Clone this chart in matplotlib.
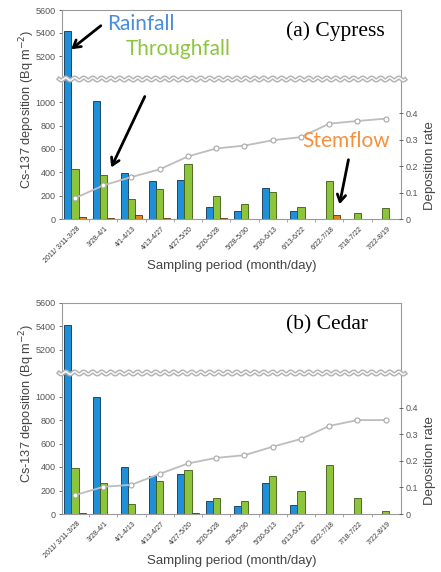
import matplotlib
matplotlib.use("Agg")
import matplotlib.pyplot as plt
import matplotlib.transforms as mtransforms
import numpy as np

periods = ["2011/ 3/11-3/28", "3/28-4/1", "4/1-4/13", "4/13-4/27", "4/27-5/20",
           "5/20-5/28", "5/28-5/30", "5/30-6/13", "6/13-6/22", "6/22-7/18",
           "7/18-7/22", "7/22-8/19"]

cypress_rain = [5420, 1010, 394, 323, 337, 106, 66, 263, 71, 0, 0, 0]
cypress_through = [429, 380, 171, 260, 474, 194, 131, 231, 106, 323, 49, 94]
cypress_stem = [14, 5, 31, 5, 0, 5, 0, 0, 0, 37, 0, 0]
cypress_rate = [0.079, 0.127, 0.159, 0.188, 0.237, 0.267, 0.278, 0.298,
                0.310, 0.361, 0.371, 0.380]

cedar_rain = [5415, 1000, 400, 326, 340, 109, 66, 266, 74, 0, 0, 0]
cedar_through = [389, 266, 86, 277, 374, 140, 109, 326, 200, 414, 134, 29]
cedar_stem = [8, 0, 0, 0, 8, 0, 0, 0, 0, 0, 0, 0]
cedar_rate = [0.071, 0.102, 0.110, 0.151, 0.190, 0.211, 0.221, 0.253,
              0.282, 0.331, 0.353, 0.353]

W, H = 441, 572
C_RAIN = "#1f8fd8"
C_THROUGH = "#8cc43c"
C_STEM = "#e0861e"
FRAME = "#9a9a9a"
TXT = "#555555"


def fig_xy(x, y):
    return x / W, 1 - y / H


def draw_panel(fig, top_px, split_px, bottom_px, rain, through, stem, rate, tag):
    left, right = 62, 401
    ax_top = fig.add_axes([left / W, 1 - split_px / H, (right - left) / W,
                           (split_px - top_px) / H])
    ax = fig.add_axes([left / W, 1 - bottom_px / H, (right - left) / W,
                       (bottom_px - split_px) / H], sharex=ax_top)
    x = np.arange(len(periods))
    w = 0.25
    for a in (ax_top, ax):
        a.bar(x - w, rain, w, color=C_RAIN, edgecolor="#0b3550", linewidth=0.6)
        a.bar(x, through, w, color=C_THROUGH, edgecolor="#3f5a12", linewidth=0.6)
        a.bar(x + w, stem, w, color=C_STEM, edgecolor="#5a3208", linewidth=0.6)
        for s in a.spines.values():
            s.set_color(FRAME)
            s.set_linewidth(0.8)
        a.tick_params(axis="y", labelsize=6.5, colors=TXT, length=2.5,
                      width=0.6, pad=2)
    ax_top.set_ylim(5000, 5600)
    ax_top.set_yticks([5200, 5400, 5600])
    ax_top.spines["bottom"].set_visible(False)
    ax_top.tick_params(axis="x", bottom=False, labelbottom=False)
    ax.set_ylim(0, 1200)
    ax.set_yticks([0, 200, 400, 600, 800, 1000])
    ax.spines["top"].set_visible(False)
    ax.set_xlim(-0.46, 11.54)
    ax.set_xticks(x)
    ax.set_xticklabels(periods, rotation=45, ha="right", va="center",
                       rotation_mode="anchor", fontsize=5, color="#333333")
    ax.set_xticks(x[:-1] + 0.5, minor=True)
    ax.tick_params(axis="x", which="major", length=0, pad=6)
    ax.tick_params(axis="x", which="minor", length=2.5, width=0.6, color=FRAME)
    shift = mtransforms.ScaledTranslation(4 / 100, 0, fig.dpi_scale_trans)
    for lab in ax.get_xticklabels():
        lab.set_transform(lab.get_transform() + shift)

    tw = ax.twinx()
    tw.plot(x, rate, color="#bdbdbd", linewidth=1.3, marker="o", markersize=3.6,
            markerfacecolor="white", markeredgecolor="#a8a8a8",
            markeredgewidth=0.8)
    tw.set_ylim(0, 0.53)
    tw.set_yticks([0, 0.1, 0.2, 0.3, 0.4])
    tw.set_yticklabels(["0", "0.1", "0.2", "0.3", "0.4"])
    tw.tick_params(axis="y", labelsize=6.5, colors=TXT, length=3, width=0.6,
                   direction="inout", pad=2)
    for s in tw.spines.values():
        s.set_visible(False)

    # wavy break band
    xs = np.linspace(59, 405, 600)
    ys = split_px + 1.3 * np.sin(2 * np.pi * (xs - 59) / 9.0)
    fx, fy = fig_xy(xs, ys)
    fig.add_artist(plt.Line2D(fx, fy, color="#b4b4b4", linewidth=3.2,
                              transform=fig.transFigure, zorder=10))
    fig.add_artist(plt.Line2D(fx, fy, color="white", linewidth=1.0,
                              transform=fig.transFigure, zorder=11))

    mid = (top_px + bottom_px) / 2 - 5
    fig.text(*fig_xy(27, mid), "Cs-137 deposition (Bq m$^{-2}$)", rotation=90,
             ha="center", va="center", fontsize=9.2, color="#444444",
             family="Liberation Sans")
    fig.text(*fig_xy(430, bottom_px - 53), "Deposition rate", rotation=90,
             ha="center", va="center", fontsize=9.5, color="#444444",
             family="Liberation Sans")
    fig.text(*fig_xy(232, bottom_px + 47), "Sampling period (month/day)",
             ha="center", va="center", fontsize=9.5, color="#444444",
             family="Liberation Sans")
    fig.text(*fig_xy(286, top_px + 26), tag, ha="left", va="baseline",
             fontsize=15.5, family="Liberation Serif", color="black")
    return ax


plt.rcParams["font.family"] = ["Liberation Sans", "DejaVu Sans"]
fig = plt.figure(figsize=(W / 100, H / 100), dpi=100)
fig.patch.set_facecolor("white")

draw_panel(fig, 10, 79, 219, cypress_rain, cypress_through, cypress_stem,
           cypress_rate, "(a) Cypress")
draw_panel(fig, 303, 373, 514, cedar_rain, cedar_through, cedar_stem,
           cedar_rate, "(b) Cedar")

fig.text(*fig_xy(107, 30), "Rainfall", color="#4a8ddb", fontsize=15,
         family="Lato", ha="left", va="baseline")
fig.text(*fig_xy(126, 55), "Throughfall", color="#8cc63f", fontsize=15,
         family="Lato", ha="left", va="baseline")
fig.text(*fig_xy(302, 147), "Stemflow", color="#f5913e", fontsize=15,
         family="Lato", ha="left", va="baseline")

arrows = [((103, 24), (69, 51)), ((146, 94), (110, 170)), ((349, 157), (339, 207))]
for tail, head in arrows:
    fig.add_artist(matplotlib.patches.FancyArrowPatch(
        fig_xy(*tail), fig_xy(*head), transform=fig.transFigure,
        arrowstyle="->,head_length=5,head_width=3", color="black",
        linewidth=2, zorder=12))

fig.savefig("out.png", dpi=100, facecolor="white")
